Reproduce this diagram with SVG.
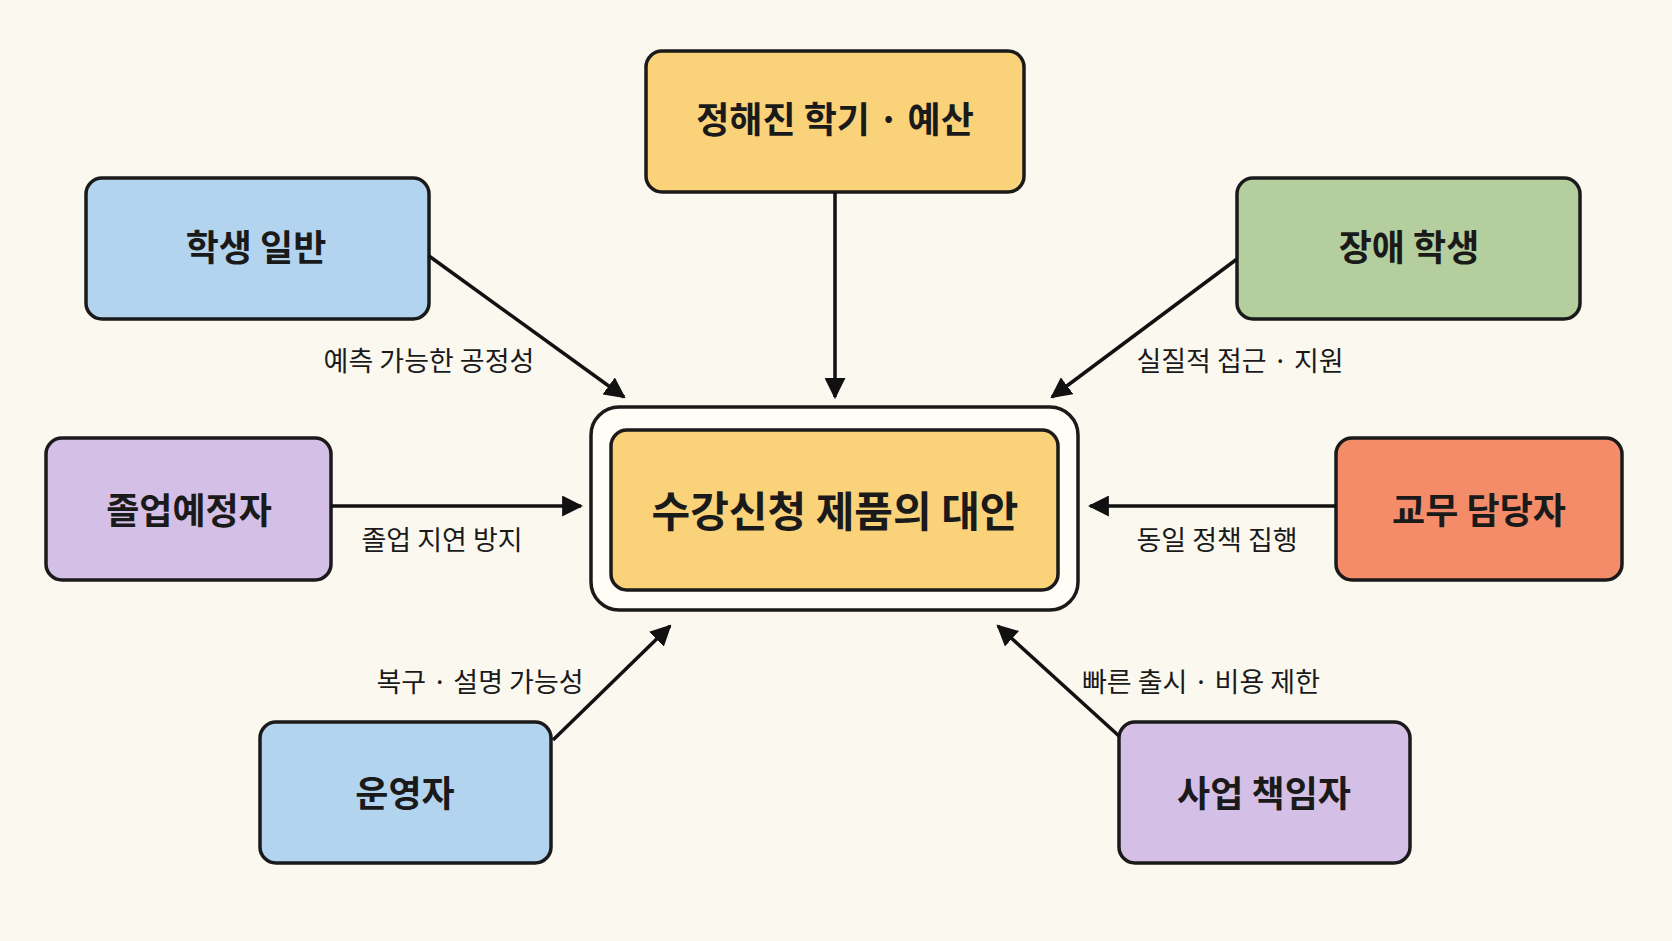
<svg xmlns="http://www.w3.org/2000/svg" width="1672" height="941" viewBox="0 0 1672 941">
<defs>
<marker id="ah" viewBox="0 0 10 10" refX="9" refY="5" markerWidth="6" markerHeight="6" orient="auto"><path d="M0,0 L10,5 L0,10 z" fill="#111"/></marker>
<style>
.n{stroke:#1a1a1a;stroke-width:3.5}
.t{font-family:"Noto Sans CJK KR","Noto Sans",sans-serif;font-weight:bold;font-size:36px;fill:#1a1a1a;text-anchor:middle;dominant-baseline:central}
.l{font-family:"Noto Sans CJK KR","Noto Sans",sans-serif;font-size:27px;fill:#1a1a1a;text-anchor:middle;dominant-baseline:central}
.c line{stroke:#111;stroke-width:3.5;marker-end:url(#ah)}
</style>
</defs>
<rect width="1672" height="941" fill="#FBF8F0"/>
<g id="center">
<rect x="591" y="407" width="487" height="203" rx="28" fill="#FFFDF6" class="n"/>
<rect x="611" y="430" width="447" height="160" rx="16" fill="#F9D27A" class="n"/>
<text x="835" y="508" class="t" style="font-size:42px">수강신청 제품의 대안</text>
</g>
<g id="n-top"><rect x="646" y="51" width="378" height="141" rx="16" fill="#F9D27A" class="n"/><text x="835" y="117" class="t">정해진 학기 · 예산</text></g>
<g id="n-students"><rect x="86" y="178" width="343" height="141" rx="16" fill="#B3D4EE" class="n"/><text x="256" y="245" class="t">학생 일반</text></g>
<g id="n-disabled"><rect x="1237" y="178" width="343" height="141" rx="16" fill="#B4CE9E" class="n"/><text x="1409" y="245" class="t">장애 학생</text></g>
<g id="n-grad"><rect x="46" y="438" width="285" height="142" rx="16" fill="#D4C0E6" class="n"/><text x="189" y="508" class="t">졸업예정자</text></g>
<g id="n-admin"><rect x="1336" y="438" width="286" height="142" rx="16" fill="#F48C6A" class="n"/><text x="1479" y="508" class="t">교무 담당자</text></g>
<g id="n-ops"><rect x="260" y="722" width="291" height="141" rx="16" fill="#B3D4EE" class="n"/><text x="405" y="791" class="t">운영자</text></g>
<g id="n-biz"><rect x="1119" y="722" width="291" height="141" rx="16" fill="#D4C0E6" class="n"/><text x="1264" y="791" class="t">사업 책임자</text></g>
<g id="connectors" class="c">
<line x1="835" y1="192" x2="835" y2="397"/>
<line x1="429" y1="256" x2="624" y2="397"/>
<line x1="1237" y1="259" x2="1052" y2="397"/>
<line x1="331" y1="506" x2="581" y2="506"/>
<line x1="1336" y1="506" x2="1090" y2="506"/>
<line x1="553" y1="740" x2="670" y2="626"/>
<line x1="1119" y1="736" x2="998" y2="626"/>
<text x="429" y="359" class="l">예측 가능한 공정성</text>
<text x="1240" y="359" class="l">실질적 접근 · 지원</text>
<text x="442" y="538" class="l">졸업 지연 방지</text>
<text x="1217" y="538" class="l">동일 정책 집행</text>
<text x="480" y="680" class="l">복구 · 설명 가능성</text>
<text x="1201" y="680" class="l">빠른 출시 · 비용 제한</text>
</g>
</svg>
